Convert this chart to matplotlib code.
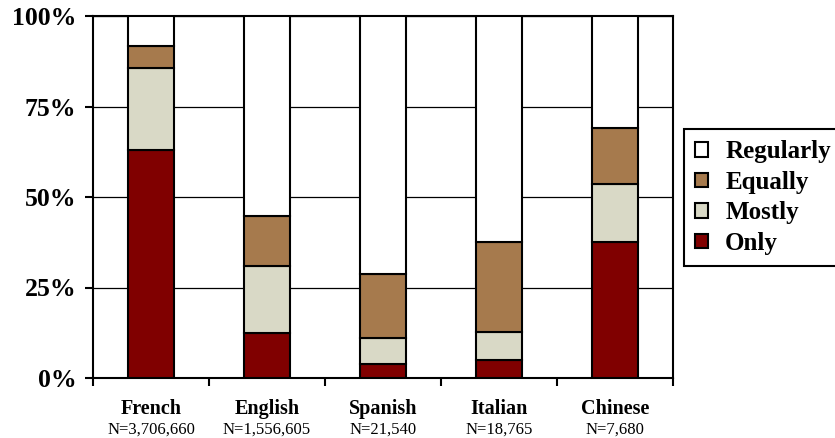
import matplotlib
matplotlib.use("Agg")
import matplotlib.pyplot as plt
from matplotlib.patches import Patch
import numpy as np

plt.rcParams['font.family'] = ['Liberation Serif', 'DejaVu Serif']

languages = ["French", "English", "Spanish", "Italian", "Chinese"]
sample_sizes = ["N=3,706,660", "N=1,556,605", "N=21,540", "N=18,765", "N=7,680"]

# percent of speakers
only = [63.0, 12.4, 3.9, 5.0, 37.6]
mostly = [22.6, 18.5, 7.2, 7.8, 16.0]
equally = [6.2, 13.9, 17.7, 24.8, 15.5]
regularly = [8.2, 55.2, 71.2, 62.4, 30.9]

series = [("Only", only, "#800000"),
          ("Mostly", mostly, "#d9d9c6"),
          ("Equally", equally, "#a67a4d"),
          ("Regularly", regularly, "#ffffff")]

fig = plt.figure(figsize=(8.35, 4.38), dpi=100)
ax = fig.add_axes([93 / 835, 1 - 378 / 438, 580 / 835, 362 / 438])

x = np.arange(len(languages))
bottom = np.zeros(len(languages))
for name, vals, color in series:
    ax.bar(x, vals, width=0.4, bottom=bottom, color=color,
           edgecolor="black", linewidth=1.5, zorder=3)
    bottom += np.array(vals)

ax.set_xlim(-0.5, len(languages) - 0.5)
ax.set_ylim(0, 100)
ax.set_yticks([0, 25, 50, 75, 100])
ax.set_yticklabels(["0%", "25%", "50%", "75%", "100%"],
                   fontsize=18.5, fontweight="bold")
ax.yaxis.grid(True, color="black", linewidth=0.9, zorder=0)
ax.tick_params(axis="y", length=6, width=1.5, pad=6)

ax.set_xticks(x)
ax.set_xticklabels(languages, fontsize=14.5, fontweight="bold")
ax.tick_params(axis="x", which="major", length=0, pad=15)
ax.set_xticks(np.arange(len(languages) + 1) - 0.5, minor=True)
ax.tick_params(axis="x", which="minor", length=6, width=1.5)

for xi, n in zip(x, sample_sizes):
    ax.annotate(n, xy=(xi, 0), xycoords=("data", "axes fraction"),
                xytext=(0, -37), textcoords="offset points",
                ha="center", va="center", fontsize=12)

for spine in ax.spines.values():
    spine.set_linewidth(1.5)

handles = [Patch(facecolor=c, edgecolor="black", linewidth=1.5, label=n)
           for n, _, c in reversed(series)]
leg = fig.legend(handles=handles, loc="upper left",
                 bbox_to_anchor=(684 / 835, 1 - 129 / 438),
                 prop={"size": 18, "weight": "bold"},
                 handlelength=0.5, handleheight=0.5, handletextpad=0.7,
                 labelspacing=0.3, borderpad=0.45, borderaxespad=0,
                 fancybox=False, framealpha=1)
leg.get_frame().set_edgecolor("black")
leg.get_frame().set_linewidth(1.5)

fig.savefig("out.png", dpi=100)
